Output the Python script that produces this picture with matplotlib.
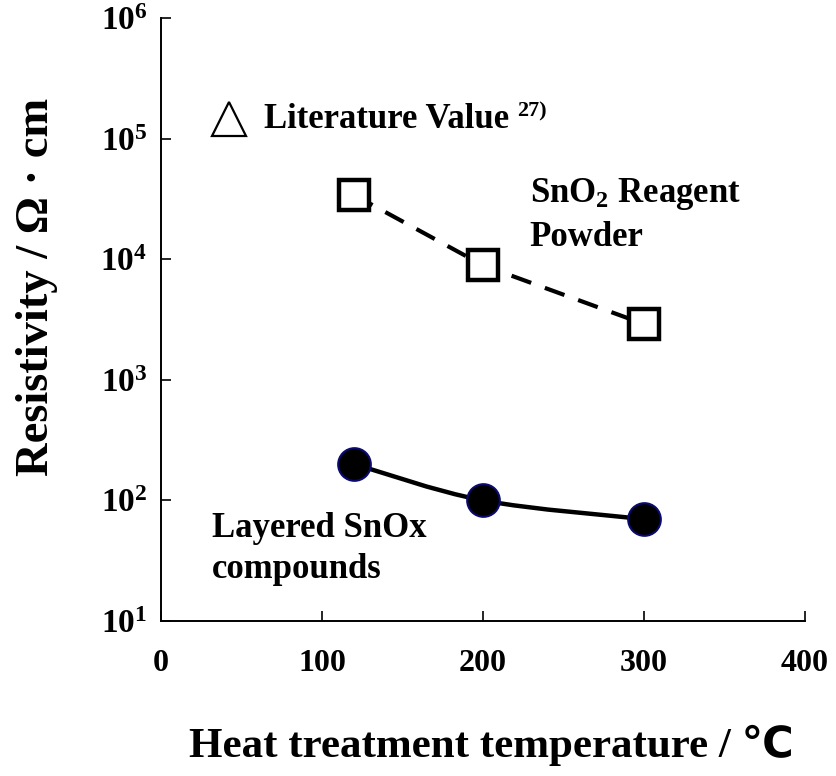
import numpy as np
import matplotlib
matplotlib.use("Agg")
import matplotlib.pyplot as plt
from matplotlib.path import Path
from matplotlib.patches import PathPatch

plt.rcParams['font.family'] = ['Liberation Serif', 'DejaVu Sans']
plt.rcParams['font.weight'] = 'bold'
plt.rcParams['mathtext.fontset'] = 'custom'
plt.rcParams['mathtext.rm'] = 'Liberation Serif:bold'
plt.rcParams['mathtext.bf'] = 'Liberation Serif:bold'
plt.rcParams['mathtext.it'] = 'Liberation Serif:bold'

# Data
temp_reagent = [120, 200, 300]
res_reagent = [3.4e4, 8.9e3, 2.9e3]
temp_layered = [120, 200, 300]
res_layered = [200, 100, 70]
temp_lit = [42]
res_lit = [1.45e5]
x_ticks = [0, 100, 200, 300, 400]
y_exps = [1, 2, 3, 4, 5, 6]

fig = plt.figure(figsize=(8.37, 7.76), dpi=100)
ax = fig.add_axes([0.1924, 0.1997, 0.7694, 0.7771])
ax.set_yscale('log')
ax.set_xlim(0, 400)
ax.set_ylim(10, 1e6)

# Reagent powder: dashed line with open squares
ax.plot(temp_reagent, res_reagent, linestyle=(0, (5, 3.5)), color='black', lw=3.0, zorder=2)
ax.plot(temp_reagent, res_reagent, linestyle='none', marker='s', ms=21,
        mfc='white', mec='black', mew=3.2, zorder=3)

# Layered compounds: smooth curve through points (Catmull-Rom in display space)
def smooth_path(xs, ys):
    pts = ax.transData.transform(np.column_stack([xs, ys]))
    verts = [pts[0]]
    codes = [Path.MOVETO]
    n = len(pts)
    for i in range(n - 1):
        p0 = pts[i - 1] if i > 0 else pts[i]
        p1 = pts[i]
        p2 = pts[i + 1]
        p3 = pts[i + 2] if i + 2 < n else pts[i + 1]
        c1 = p1 + (p2 - p0) / 6.0
        c2 = p2 - (p3 - p1) / 6.0
        verts += [c1, c2, p2]
        codes += [Path.CURVE4] * 3
    return Path(verts, codes)

path = smooth_path(temp_layered, res_layered)
ax.add_patch(PathPatch(path, transform=None, fill=False, edgecolor='black', lw=3.2, zorder=2))
ax.plot(temp_layered, res_layered, linestyle='none', marker='o', ms=23.5,
        mfc='black', mec='#0a0a70', mew=1.5, zorder=3)

# Literature value
ax.plot(temp_lit, res_lit, linestyle='none', marker='^', ms=24,
        mfc='white', mec='black', mew=1.6, zorder=3)

# Annotations
ax.text(64, 1.45e5, 'Literature Value', fontsize=25, fontweight='bold', va='center', ha='left')
ax.text(221, 1.68e5, '27)', fontsize=16, fontweight='bold', va='center', ha='left')
ax.text(229, 3.5e4, 'SnO$_2$ Reagent', fontsize=25, fontweight='bold', va='center', ha='left')
ax.text(229, 1.52e4, 'Powder', fontsize=25, fontweight='bold', va='center', ha='left')
ax.text(31.5, 58, 'Layered SnOx', fontsize=25, fontweight='bold', va='center', ha='left')
ax.text(31.5, 26.5, 'compounds', fontsize=25, fontweight='bold', va='center', ha='left')

# Axes styling
for s in ['top', 'right']:
    ax.spines[s].set_visible(False)
for s in ['left', 'bottom']:
    ax.spines[s].set_linewidth(1.4)

ax.set_xticks(x_ticks)
ax.set_xticklabels([str(v) for v in x_ticks], fontsize=23, fontweight='bold')
ax.set_yticks([10.0 ** e for e in y_exps])
ax.set_yticklabels([r'$\mathbf{10^{%d}}$' % e for e in y_exps], fontsize=24)
ax.minorticks_off()
ax.tick_params(axis='both', direction='in', length=7, width=1.2)
ax.tick_params(axis='x', pad=20)
ax.tick_params(axis='y', pad=10)

fig.text(37 / 837, 1 - 287 / 776, 'Resistivity / Ω · cm', fontsize=33.5, fontweight='bold',
         rotation=90, ha='center', va='center')
fig.text(491 / 837, 1 - 745 / 776, 'Heat treatment temperature / ℃', fontsize=31,
         fontweight='bold', ha='center', va='center')

fig.savefig('out.png', dpi=100)
